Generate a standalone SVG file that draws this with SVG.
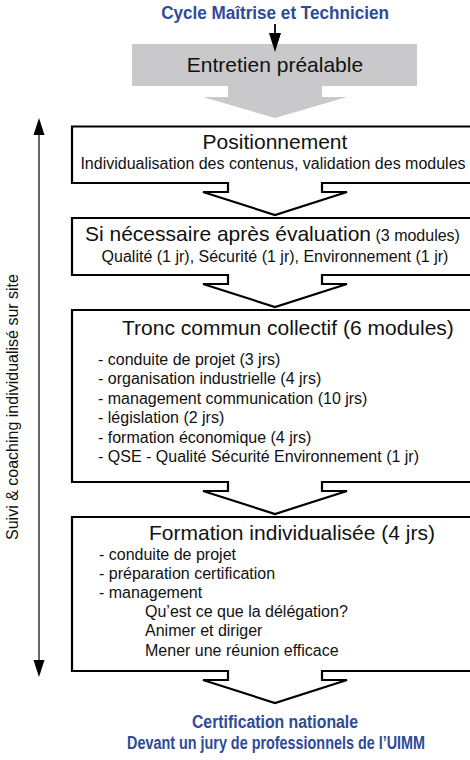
<svg xmlns="http://www.w3.org/2000/svg" width="470" height="760" viewBox="0 0 470 760">
  <defs>
    <style>
      .blue { font-family: "Liberation Sans Narrow", "Liberation Sans", Arial, sans-serif; font-weight: bold; fill: #2e4a9a; font-size: 19px; text-anchor: middle; }
      .big { font-family: "Liberation Sans", Arial, sans-serif; font-size: 21px; fill: #111; }
      .small { font-family: "Liberation Sans", Arial, sans-serif; font-size: 16px; fill: #111; }
      .box { fill: #fff; stroke: #000; stroke-width: 2.2; stroke-linejoin: miter; }
      .mid { text-anchor: middle; }
      .head { fill: #000; stroke: none; }
    </style>
  </defs>

  <!-- top heading (condensed look via horizontal scale) -->
  <g id="cycle">
    <text class="blue" transform="translate(275,19) scale(0.78,1)" x="0" y="0" textLength="292" lengthAdjust="spacingAndGlyphs">Cycle Maîtrise et Technicien</text>
  </g>

  <!-- grey block arrow -->
  <g id="entretien">
    <path d="M132,44 H417 V86 H322 V97 H347 L275,118 L203,97 H228 V86 H132 Z" fill="#c9c9cb"/>
    <text class="big mid" x="275" y="72">Entretien préalable</text>
  </g>

  <!-- step boxes, each with its own down-pointing outlet -->
  <g id="positionnement">
    <path class="box" d="M72,126.5 H474 V183 H322 V192 H347 L275,215 L203,192 H228 V183 H72 Z"/>
    <text class="big mid" x="275" y="149">Positionnement</text>
    <text class="small mid" x="273" y="169">Individualisation des contenus, validation des modules</text>
  </g>

  <g id="evaluation">
    <path class="box" d="M72,218 H474 V275 H322 V284 H347 L275,307 L203,284 H228 V275 H72 Z"/>
    <text class="big" x="85" y="241">Si nécessaire après évaluation<tspan class="small"> (3 modules)</tspan></text>
    <text class="small mid" x="275" y="262">Qualité (1 jr), Sécurité (1 jr), Environnement (1 jr)</text>
  </g>

  <g id="tronc-commun">
    <path class="box" d="M72,310 H474 V482 H322 V491 H347 L275,514 L203,491 H228 V482 H72 Z"/>
    <text class="big" x="122" y="335">Tronc commun collectif (6 modules)</text>
    <text class="small" x="98" y="364.5">- conduite de projet (3 jrs)</text>
    <text class="small" x="98" y="384">- organisation industrielle (4 jrs)</text>
    <text class="small" x="98" y="403.5">- management communication (10 jrs)</text>
    <text class="small" x="98" y="423">- législation (2 jrs)</text>
    <text class="small" x="98" y="442.5">- formation économique (4 jrs)</text>
    <text class="small" x="98" y="462">- QSE - Qualité Sécurité Environnement (1 jr)</text>
  </g>

  <g id="formation-individualisee">
    <path class="box" d="M72,517 H474 V671 H322 V680 H347 L275,703 L203,680 H228 V671 H72 Z"/>
    <text class="big" x="149" y="540">Formation individualisée (4 jrs)</text>
    <text class="small" x="99" y="559.5">- conduite de projet</text>
    <text class="small" x="99" y="578.7">- préparation certification</text>
    <text class="small" x="99" y="597.9">- management</text>
    <text class="small" x="145" y="617.1">Qu’est ce que la délégation?</text>
    <text class="small" x="145" y="636.3">Animer et diriger</text>
    <text class="small" x="145" y="655.5">Mener une réunion efficace</text>
  </g>

  <g id="certification">
    <text class="blue" transform="translate(275,728) scale(0.78,1)" x="0" y="0" textLength="213" lengthAdjust="spacingAndGlyphs">Certification nationale</text>
    <text class="blue" transform="translate(276,749) scale(0.78,1)" x="0" y="0" textLength="382" lengthAdjust="spacingAndGlyphs">Devant un jury de professionnels de l’UIMM</text>
  </g>

  <g id="suivi-label">
    <text class="small mid" font-size="17.5" transform="translate(18,407) rotate(-90)">Suivi &amp; coaching individualisé sur site</text>
  </g>

  <!-- connectors -->
  <g id="connectors">
    <line x1="275" y1="24" x2="275" y2="36" stroke="#000" stroke-width="1.8"/>
    <path class="head" d="M269,33 H281 L275,52 Z"/>
    <line x1="39" y1="132" x2="39" y2="663" stroke="#000" stroke-width="1.2"/>
    <path class="head" d="M33.5,135 H44.5 L39,118 Z"/>
    <path class="head" d="M33.5,660 H44.5 L39,677 Z"/>
  </g>
</svg>
